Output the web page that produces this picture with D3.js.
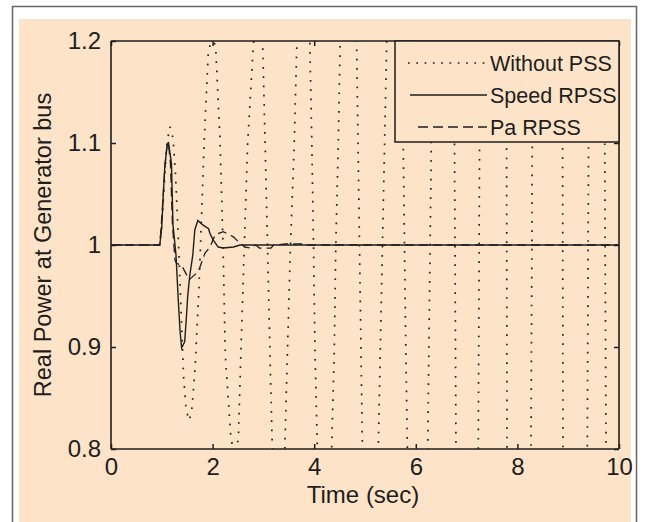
<!DOCTYPE html>
<html><head><meta charset="utf-8">
<script src="https://cdn.jsdelivr.net/npm/d3@7"></script>
<style>html,body{margin:0;padding:0;background:#fff;}svg{display:block;}</style>
</head><body>
<svg id="c" width="648" height="522"></svg>
<script>
const xTicks = [0, 2, 4, 6, 8, 10];
const yTicks = [0.8, 0.9, 1.0, 1.1, 1.2];
const yTickLabels = ["0.8", "0.9", "1", "1.1", "1.2"];
const seriesNames = ["Without PSS", "Speed RPSS", "Pa RPSS"];

// Without PSS (dotted) [time, power]; values outside 0.8..1.2 are clipped
const withoutPSS = [
 [0,1],[0.96,1.0],[1.0,1.02],[1.05,1.06],[1.1,1.1],[1.16,1.116],[1.22,1.105],[1.27,1.07],[1.33,1.0],
 [1.38,0.935],[1.43,0.87],[1.48,0.838],[1.54,0.828],[1.59,0.838],[1.62,0.856],[1.66,0.884],[1.69,0.915],
 [1.732,0.958],[1.837,1.105],[1.915,1.188],[1.99,1.205],[2.061,1.194],[2.146,1.103],[2.205,1.0],
 [2.25,0.892],[2.362,0.809],[2.43,0.798],[2.506,0.809],[2.56,0.9],[2.625,1.0],[2.69,1.1],[2.80,1.194],
 [2.89,1.25],[2.986,1.196],[3.031,1.105],[3.081,1.0],[3.13,0.892],[3.175,0.801],[3.195,0.76],
 [3.397,0.76],[3.425,0.807],[3.47,0.89],[3.533,1.0],[3.608,1.101],[3.656,1.193],[3.684,1.24],
 [3.898,1.24],[3.917,1.19],[3.951,1.106],[3.986,1.0],[4.016,0.895],[4.061,0.802],[4.076,0.76],
 [4.326,0.76],[4.345,0.804],[4.396,0.897],[4.425,1.0],[4.474,1.1],[4.508,1.191],[4.529,1.24],
 [4.823,1.24],[4.837,1.191],[4.947,0.806],[4.957,0.76],
 [5.245,0.76],[5.262,0.802],[5.427,1.199],[5.444,1.24],
 [5.709,1.24],[5.754,1.093],[5.801,0.907],[5.847,0.76],
 [6.222,0.76],[6.234,0.8],[6.33,1.2],[6.342,1.24],
 [6.748,1.24],[6.752,1.2],[6.791,0.8],[6.795,0.76],
 [7.227,0.76],[7.23,0.8],[7.264,1.2],[7.268,1.24],
 [7.784,1.24],[7.785,1.2],[7.795,0.8],[7.796,0.76],
 [8.265,0.76],[8.268,0.8],[8.301,1.2],[8.304,1.24],
 [8.886,1.24],[8.887,1.2],[8.897,0.8],[8.898,0.76],
 [9.373,0.76],[9.376,0.8],[9.409,1.2],[9.412,1.24],
 [9.708,1.24],[9.711,1.2],[9.744,0.8],[9.747,0.76],[10,0.76]
];
// Speed RPSS (solid)
const speedRPSS = [
 [0,1],[0.96,1.0],[1.0,1.018],[1.03,1.051],[1.06,1.077],[1.1,1.096],[1.13,1.101],[1.19,1.08],
 [1.22,1.02],[1.28,0.99],[1.32,0.95],[1.36,0.915],[1.39,0.899],[1.45,0.905],[1.48,0.926],[1.51,0.95],
 [1.55,0.97],[1.61,0.99],[1.65,1.015],[1.71,1.024],[1.8,1.02],[1.92,1.016],[1.95,1.011],[2.01,1.005],
 [2.11,0.998],[2.21,0.997],[2.41,0.998],[2.54,1.0],[10,1.0]
];
// Pa RPSS (dashed)
const paRPSS = [
 [0,1],[0.96,1.0],[0.99,1.02],[1.03,1.05],[1.06,1.077],[1.1,1.096],[1.13,1.1],[1.17,1.08],[1.21,1.02],
 [1.26,0.985],[1.29,0.982],[1.39,0.98],[1.54,0.966],[1.72,0.974],[1.85,0.992],[1.95,0.998],[2.05,1.01],
 [2.21,1.013],[2.41,1.008],[2.51,1.003],[2.64,0.998],[2.74,0.997],[2.85,1.0],[2.92,0.997],[3.15,0.997],
 [3.2,1.0],[3.44,1.001],[3.76,1.001],[3.8,1.0],[10,1.0]
];

const svg = d3.select("#c");
const peach = "#fde4c8";
const ink = "#1e1e1e";
const font = "'Liberation Sans', Arial, sans-serif";

// frame
svg.append("rect").attr("x", 12.5).attr("y", 6.5).attr("width", 624).attr("height", 530)
  .attr("fill", "#fff").attr("stroke", "#666").attr("stroke-width", 1.5);
svg.append("rect").attr("x", 19).attr("y", 19).attr("width", 612).attr("height", 510).attr("fill", peach);

const m = {l: 111, r: 619, t: 41, b: 449};
const x = d3.scaleLinear().domain([0, 10]).range([m.l, m.r]);
const y = d3.scaleLinear().domain([0.8, 1.2]).range([m.b, m.t]);

svg.append("defs").append("clipPath").attr("id", "clip")
  .append("rect").attr("x", m.l).attr("y", m.t).attr("width", m.r - m.l).attr("height", m.b - m.t);

const line = d3.line().x(d => x(d[0])).y(d => y(d[1]));
const g = svg.append("g").attr("clip-path", "url(#clip)");
g.append("path").datum(withoutPSS).attr("d", line).attr("fill", "none").attr("stroke", ink)
  .attr("stroke-width", 1.7).attr("stroke-dasharray", "1.7,7.6");
g.append("path").datum(paRPSS).attr("d", line).attr("fill", "none").attr("stroke", ink)
  .attr("stroke-width", 1.3).attr("stroke-dasharray", "9,5");
g.append("path").datum(speedRPSS).attr("d", line).attr("fill", "none").attr("stroke", ink)
  .attr("stroke-width", 1.4);

// axes (inward ticks, box)
const tickLen = 5;
const axB = svg.append("g").attr("transform", `translate(0,${m.b})`)
  .call(d3.axisBottom(x).tickValues(xTicks).tickSize(-tickLen).tickPadding(9).tickFormat(d3.format("d")));
const axT = svg.append("g").attr("transform", `translate(0,${m.t})`)
  .call(d3.axisTop(x).tickValues(xTicks).tickSize(-tickLen).tickFormat(""));
const axL = svg.append("g").attr("transform", `translate(${m.l},0)`)
  .call(d3.axisLeft(y).tickValues(yTicks).tickSize(-tickLen).tickPadding(10)
    .tickFormat((d, i) => yTickLabels[i]));
const axR = svg.append("g").attr("transform", `translate(${m.r},0)`)
  .call(d3.axisRight(y).tickValues(yTicks).tickSize(-tickLen).tickFormat(""));
[axB, axT, axL, axR].forEach(a => {
  a.select(".domain").attr("stroke", ink).attr("stroke-width", 1.6);
  a.selectAll(".tick line").attr("stroke", ink).attr("stroke-width", 1.5);
  a.selectAll("text").attr("font-family", font).attr("font-size", 24).attr("fill", ink);
});
axB.selectAll(".domain").attr("d", `M${m.l},0H${m.r}`);
axT.selectAll(".domain").attr("d", `M${m.l},0H${m.r}`);
axL.selectAll(".domain").attr("d", `M0,${m.t}V${m.b}`);
axR.selectAll(".domain").attr("d", `M0,${m.t}V${m.b}`);

svg.append("text").attr("x", 363).attr("y", 503).attr("text-anchor", "middle")
  .attr("font-family", font).attr("font-size", 24).attr("fill", ink).text("Time (sec)");
svg.append("text").attr("transform", `translate(51,${(m.t + m.b) / 2}) rotate(-90)`)
  .attr("text-anchor", "middle").attr("font-family", font).attr("font-size", 23.5).attr("fill", ink)
  .text("Real Power at Generator bus");

// legend
const lg = svg.append("g");
lg.append("rect").attr("x", 395).attr("y", m.t).attr("width", m.r - 395).attr("height", 101)
  .attr("fill", peach).attr("stroke", ink).attr("stroke-width", 1.5);
const styles = [
  {dash: "1.7,6.6", w: 1.7, x0: 408},
  {dash: null, w: 1.4, x0: 410},
  {dash: "10,5", w: 1.3, x0: 418}
];
seriesNames.forEach((name, i) => {
  const yy = 63 + i * 32;
  const p = lg.append("line").attr("x1", styles[i].x0).attr("x2", 487).attr("y1", yy).attr("y2", yy)
    .attr("stroke", ink).attr("stroke-width", styles[i].w);
  if (styles[i].dash) p.attr("stroke-dasharray", styles[i].dash);
  lg.append("text").attr("x", 490).attr("y", yy + 8).attr("font-family", font).attr("font-size", 21.5)
    .attr("fill", ink).text(name);
});
</script>
</body></html>
